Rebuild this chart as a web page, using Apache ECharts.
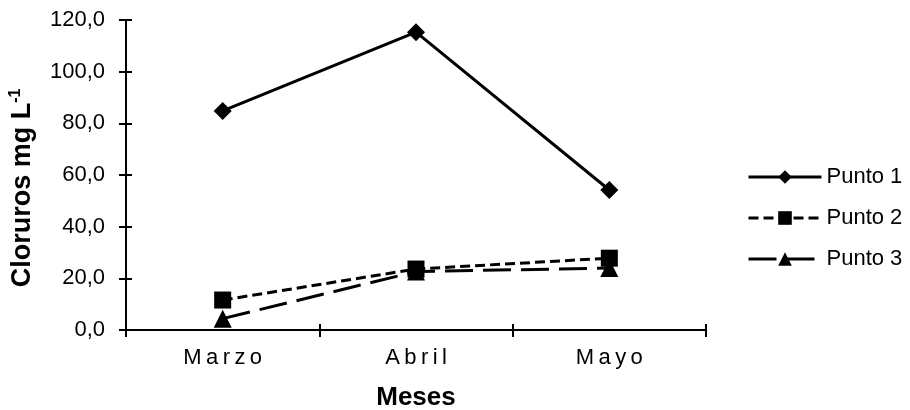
<!DOCTYPE html>
<html>
<head>
<meta charset="utf-8">
<script src="https://cdn.jsdelivr.net/npm/echarts@6/dist/echarts.min.js"></script>
<style>
  html, body { margin: 0; padding: 0; background: #fff; }
  #chart { width: 910px; height: 410px; }
</style>
</head>
<body>
<div id="chart"></div>
<script>
// Monthly chloride concentration at three sampling points
const meses = ['Marzo', 'Abril', 'Mayo'];
const punto1 = [84.8, 115.3, 54.2];
const punto2 = [11.6, 23.6, 27.8];
const punto3 = [4.4, 22.6, 24.0];
const yTicks = { min: 0, max: 120, interval: 20 };

// spread the month letters apart
const spaced = s => s.split('').join('\u2009');

const font = '"Liberation Sans", Arial, sans-serif';
const chart = echarts.init(document.getElementById('chart'));

function serie(name, data, symbol, size, dash) {
  return {
    name, type: 'line', data,
    xAxisIndex: 0, yAxisIndex: 0,
    symbol, symbolSize: size,
    lineStyle: { color: '#000', width: 3, type: dash, cap: 'butt' },
    itemStyle: { color: '#000' },
    emphasis: { disabled: true },
    animation: false
  };
}

const axisBlack = { color: '#000', width: 2 };

chart.setOption({
  backgroundColor: '#fff',
  textStyle: { fontFamily: font },
  grid: { left: 126, right: 204, top: 20, bottom: 80, containLabel: false, outerBoundsMode: 'none' },
  legend: {
    orient: 'vertical',
    left: 742, top: 161,
    itemWidth: 73, itemHeight: 17, itemGap: 19,
    lineStyle: { width: 3 },
    textStyle: { fontSize: 22, color: '#000', fontFamily: font },
    data: ['Punto 1', 'Punto 2', 'Punto 3']
  },
  xAxis: [{
    type: 'category',
    data: meses,
    boundaryGap: true,
    name: 'Meses',
    nameLocation: 'middle',
    nameGap: 55,
    nameTextStyle: { fontSize: 26, fontWeight: 'bold', color: '#000', fontFamily: font },
    axisLine: { lineStyle: axisBlack },
    axisTick: { show: true, inside: false, length: 7, lineStyle: axisBlack },
    axisLabel: { fontSize: 22, color: '#000', margin: 17, fontFamily: font, formatter: v => spaced(v) }
  }, {
    // inner half of the crossing tick marks
    type: 'category',
    data: meses,
    position: 'bottom',
    boundaryGap: true,
    axisLine: { show: false },
    axisTick: { show: true, inside: true, length: 6, lineStyle: axisBlack },
    axisLabel: { show: false }
  }],
  yAxis: [{
    type: 'value',
    min: yTicks.min, max: yTicks.max, interval: yTicks.interval,
    name: '{b|Cloruros mg L}{s|-1}',
    nameLocation: 'middle',
    nameGap: 88,
    nameRotate: 90,
    nameTextStyle: {
      padding: [0, 26, 0, 0],
      rich: {
        b: { fontSize: 27, fontWeight: 'bold', color: '#000', fontFamily: font },
        s: { fontSize: 16, fontWeight: 'bold', color: '#000', fontFamily: font, verticalAlign: 'top', padding: [0, 0, 14, 0] }
      }
    },
    splitLine: { show: false },
    axisLine: { show: true, lineStyle: axisBlack },
    axisTick: { show: true, length: 7, lineStyle: axisBlack },
    axisLabel: { fontSize: 22, color: '#000', margin: 21, fontFamily: font, formatter: v => v.toFixed(1).replace('.', ',') }
  }, {
    // inner half of the crossing tick marks
    type: 'value',
    position: 'left',
    min: yTicks.min, max: yTicks.max, interval: yTicks.interval,
    splitLine: { show: false },
    axisLine: { show: false },
    axisTick: { show: true, inside: true, length: 6, lineStyle: axisBlack },
    axisLabel: { show: false }
  }],
  series: [
    serie('Punto 1', punto1, 'diamond', 18, 'solid'),
    serie('Punto 2', punto2, 'rect', 17, [10, 5]),
    serie('Punto 3', punto3, 'triangle', 18, [28, 10])
  ]
});
</script>
</body>
</html>
